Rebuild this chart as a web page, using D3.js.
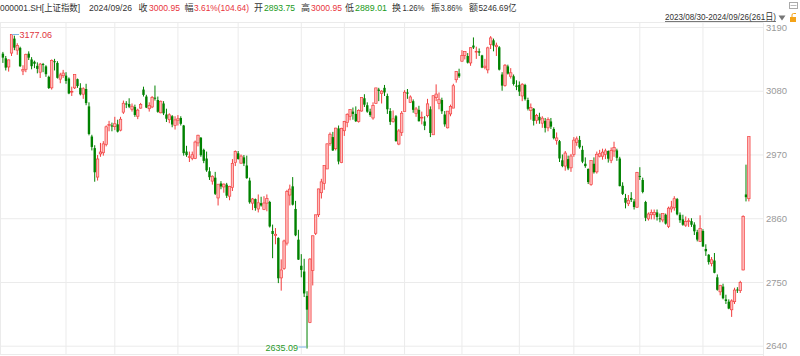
<!DOCTYPE html>
<html><head><meta charset="utf-8">
<script src="https://cdn.jsdelivr.net/npm/d3@7/dist/d3.min.js"></script>
<style>
body{margin:0;background:#fff;}
svg{display:block;}
text{font-family:"Liberation Sans","Noto Sans CJK SC",sans-serif;}
</style></head>
<body><svg id="c" width="800" height="356"></svg>
<script>
// ---- categories (trading days) ----
const months = ["2023/08","2023/09","2023/10","2023/11","2023/12","2024/01","2024/02","2024/03","2024/04","2024/05","2024/06","2024/07","2024/08","2024/09"];
const monthDays = [
 [30,31],
 [1,4,5,6,7,8,11,12,13,14,15,18,19,20,21,22,25,26,27,28],
 [9,10,11,12,13,16,17,18,19,20,23,24,25,26,27,30,31],
 [1,2,3,6,7,8,9,10,13,14,15,16,17,20,21,22,23,24,27,28,29,30],
 [1,4,5,6,7,8,11,12,13,14,15,18,19,20,21,22,25,26,27,28,29],
 [2,3,4,5,8,9,10,11,12,15,16,17,18,19,22,23,24,25,26,29,30,31],
 [1,2,5,6,7,8,19,20,21,22,23,26,27,28,29],
 [1,4,5,6,7,8,11,12,13,14,15,18,19,20,21,22,25,26,27,28,29],
 [1,2,3,8,9,10,11,12,15,16,17,18,19,22,23,24,25,26,29,30],
 [6,7,8,9,10,13,14,15,16,17,20,21,22,23,24,27,28,29,30,31],
 [3,4,5,6,7,11,12,13,14,17,18,19,20,21,24,25,26,27,28],
 [1,2,3,4,5,8,9,10,11,12,15,16,17,18,19,22,23,24,25,26,29,30,31],
 [1,2,5,6,7,8,9,12,13,14,15,16,19,20,21,22,23,26,27,28,29,30],
 [2,3,4,5,6,9,10,11,12,13,18,19,20,23,24,25,26]
];
// ---- series values ----
const openV = [
3144,3136,3121,3145,3170,3150,3154,3114,3117,3144,
3134,3130,3123,3112,3126,3122,3104,3085,3131,3128,
3100,3106,3106,3101,3078,3085,3100,3085,3074,3083,
3053,3001,2981,2931,2971,2973,2987,3020,3020,3018,
3022,3012,3043,3058,3057,3048,3052,3036,3050,3082,
3070,3049,3052,3068,3064,3042,3058,3039,3030,3036,
3020,3029,3033,3020,2975,2966,2963,2963,2990,2999,
2978,2963,2941,2924,2930,2895,2920,2914,2918,2898,
2913,2956,2972,2955,2965,2951,2925,2886,2893,2876,
2886,2875,2886,2888,2838,2830,2826,2757,2773,2817,
2900,2915,2876,2823,2778,2768,2726,2680,2770,2834,
2866,2904,2920,2945,2989,3000,2980,3015,2956,3011,
3025,3036,3044,3040,3027,3045,3067,3055,3044,3033,
3058,3082,3075,3085,3071,3045,3027,3036,2988,3008,
3044,3077,3060,3062,3041,3047,3034,3027,3037,3048,
3004,3068,3058,3064,3039,3016,3040,3050,3099,3110,
3131,3141,3140,3128,3158,3147,3148,3141,3120,3116,
3160,3167,3156,3155,3108,3089,3122,3105,3105,3089,
3090,3071,3090,3064,3046,3049,3029,3035,3024,3028,
3016,3027,3014,2994,2993,2960,2950,2962,2947,2970,
2991,2995,2978,2954,2945,2918,2954,2940,2967,2967,
2970,2976,2960,2976,2977,2963,2916,2895,2885,2895,
2889,2879,2933,2926,2888,2859,2866,2866,2870,2860,
2857,2866,2846,2876,2878,2893,2866,2858,2848,2855,
2855,2849,2836,2820,2838,2807,2797,2782,2787,2758,
2733,2742,2720,2716,2702,2716,2737,2735,2770.75,2901,
2893.75];
const highV = [
3147,3140,3134,3177.06,3175,3162,3156,3124,3144,3148,
3138,3132,3129,3128,3128,3124,3106,3134,3135,3131,
3111,3116,3112,3103,3087,3108,3101,3093,3086,3092,
3060,3004,2986,2969,2990,2993,3020,3028,3025,3035,
3030,3035,3063,3062,3067,3058,3056,3049,3059,3087,
3073,3060,3071,3089,3070,3063,3062,3049,3041,3038,
3036,3038,3036,3021,2985,2975,2975,2994,3004,3000,
2980,2975,2948,2934,2940,2919,2924,2920,2921,2916,
2962,2977,2976,2970,2969,2968,2930,2895,2894,2901,
2897,2898,2901,2890,2849,2843,2827,2789,2823,2909,
2918,2931,2890,2840,2798,2790,2734,2791,2830,2866,
2911,2928,2951,2989,3008,3009,3016,3020,3016,3028,
3041,3048,3051,3053,3048,3069,3074,3060,3049,3060,
3085,3085,3081,3090,3075,3050,3046,3038,3014,3045,
3081,3083,3072,3065,3052,3054,3044,3036,3066,3053,
3072,3091,3077,3068,3045,3045,3056,3092,3114,3118,
3150,3148,3145,3155,3172,3156,3153,3142,3135,3156,
3174.27,3170,3163,3157,3112,3126,3125,3119,3108,3098,
3096,3093,3092,3068,3058,3050,3040,3042,3036,3033,
3034,3033,3017,3008,2995,2970,2976,2968,2971,3000,
3001,3002,2985,2965,2946,2960,2965,2975,2978,2980,
2980,2977,2982,2992,2980,2966,2922,2902,2900,2905,
2893,2940,2948,2930,2890,2870,2875,2875,2875,2868,
2868,2868,2880,2890,2898,2895,2870,2866,2863,2860,
2860,2853,2840,2865,2841,2815,2798,2793,2800,2763,
2745,2747,2728,2720,2720,2740,2741,2752,2865,2952.45,
3000.95];
const lowV = [
3128,3115,3113,3140,3150,3142,3121,3107,3112,3133,
3117,3119,3110,3102,3112,3104,3083,3082,3115,3101,
3093,3102,3092,3074,3071,3083,3085,3072,3066,3055,
3003,2977,2923,2925,2966,2968,2984,3010,3010,3012,
3008,3010,3040,3050,3050,3044,3035,3031,3049,3070,
3050,3044,3050,3063,3042,3041,3038,3026,3024,3017,
3013,3020,3020,2968,2966,2957,2960,2962,2984,2966,
2955,2940,2926,2918,2900,2882,2910,2904,2895,2891,
2907,2950,2961,2954,2950,2928,2885,2874,2873,2870,
2880,2874,2872,2844,2791,2815,2748,2735,2771,2813,
2882,2882,2829,2788,2758,2724,2635.09,2679,2744,2831,
2862,2894,2909,2945,2985,2976,2977,2953,2955,3002,
3017,3029,3030,3026,3025,3044,3052,3042,3035,3030,
3058,3062,3058,3071,3040,3021,3025,2992,2986,3002,
3044,3066,3059,3042,3035,3027,3022,3012,3034,3000,
3004,3062,3048,3040,3018,3015,3036,3050,3094,3102,
3130,3134,3127,3123,3152,3135,3140,3119,3117,3110,
3152,3148,3140,3115,3080,3087,3108,3101,3089,3081,
3071,3062,3063,3046,3030,3020,3023,3023,3016,3008,
3010,3014,2996,2987,2957,2948,2942,2943,2940,2966,
2985,2980,2955,2947,2919,2916,2937,2937,2965,2961,
2962,2956,2955,2966,2959,2915,2900,2877,2881,2888,
2875,2878,2926,2903,2855,2856,2858,2858,2856,2853,
2853,2849,2843,2870,2873,2865,2852,2847,2845,2845,
2845,2831,2820,2819,2811,2795,2780,2777,2765,2735,
2727,2720,2712,2703,2689.70,2712,2731,2731,2770,2889,
2889.01];
const closeV = [
3137.14,3119.88,3133.25,3177.06,3154.37,3158.08,3122.35,3116.72,3142.78,3137.06,
3122.40,3126.55,3117.74,3125.93,3124.25,3108.57,3084.70,3132.43,3130.65,3102.27,
3107.32,3110.48,3096.92,3075.24,3078.96,3107.90,3088.10,3073.81,3083.50,3058.71,
3005.39,2983.06,2939.29,2962.24,2974.26,2988.30,3017.78,3021.55,3018.77,3023.08,
3009.41,3030.80,3058.41,3057.27,3052.37,3053.28,3038.23,3046.53,3056.20,3072.83,
3050.93,3054.37,3068.32,3067.93,3043.61,3061.86,3040.97,3031.70,3038.55,3021.69,
3029.67,3031.64,3022.91,2972.30,2968.93,2966.21,2969.56,2991.44,3003.21,2968.76,
2958.99,2942.56,2930.80,2932.39,2902.11,2918.71,2914.78,2918.81,2898.87,2914.61,
2954.70,2974.93,2962.28,2967.25,2954.35,2929.18,2887.54,2893.25,2877.70,2886.65,
2881.98,2886.29,2893.99,2845.78,2832.82,2832.28,2756.34,2770.74,2820.77,2906.11,
2910.22,2883.36,2830.53,2788.55,2770.74,2730.15,2702.19,2789.49,2829.70,2865.90,
2910.54,2922.73,2950.96,2988.36,3004.88,2977.02,3015.48,2957.85,3015.17,3027.02,
3039.31,3047.79,3039.93,3027.40,3046.02,3068.46,3055.94,3043.83,3038.23,3054.64,
3084.93,3079.69,3079.25,3077.11,3048.03,3026.31,3031.48,2993.14,3010.66,3041.17,
3077.38,3074.96,3069.30,3047.05,3048.54,3027.33,3034.25,3019.47,3057.38,3007.07,
3071.38,3074.22,3065.26,3044.60,3021.98,3044.82,3052.90,3088.64,3113.04,3104.82,
3140.72,3147.74,3128.48,3154.32,3154.55,3148.02,3145.77,3119.90,3122.40,3154.03,
3171.15,3157.97,3158.54,3116.39,3088.87,3124.04,3109.57,3111.02,3091.68,3086.81,
3078.49,3091.20,3065.40,3048.79,3051.28,3028.05,3037.47,3028.92,3032.63,3015.89,
3030.25,3018.05,2998.14,2998.54,2963.10,2950.00,2972.53,2945.85,2967.40,2994.73,
2997.01,2982.38,2957.57,2949.93,2922.45,2959.37,2939.36,2970.39,2971.30,2974.01,
2976.30,2962.69,2977.13,2982.31,2964.22,2915.37,2901.95,2886.74,2890.90,2891.85,
2879.30,2938.75,2932.39,2905.34,2860.70,2867.28,2869.90,2869.83,2862.19,2858.20,
2867.95,2850.65,2877.36,2879.43,2893.67,2866.66,2856.58,2848.77,2854.37,2855.52,
2848.73,2837.43,2823.11,2842.21,2811.04,2802.98,2784.28,2788.31,2765.81,2736.49,
2744.19,2721.80,2717.12,2704.09,2717.28,2736.02,2736.81,2748.92,2863.13,2896.31,
3000.95];
// ---- tick labels & texts ----
const yTicks = [2640,2750,2860,2970,3080,3190];
const headerTexts = ["000001.SH[上证指数]","2024/09/26","收","3000.95","幅","3.61%(104.64)","开","2893.75","高","3000.95","低","2889.01","换","1.26%","振","3.86%","额","5246.69亿"];
const headerKinds = ["d","d","d","r","d","r","d","g","d","r","d","g","d","d","d","d","d","d"];
const rangeLabel = "2023/08/30-2024/09/26(261日)";

// ---- layout ----
const RED="#f23c3c", PINK="#ffbcbc", GREEN="#008200", GRID="#ebebeb";
const headerX = [0,89,138.5,149,184.5,194,254,264,301,311,345,355,392,402.5,431,440.5,469,478.5];
const headerW = [80,43,null,31,null,55,null,31,null,31,null,32,null,22,null,22,null,38];

const svg = d3.select("#c");
const dates = months.flatMap((m,i)=>monthDays[i].map(d=>m+"/"+String(d).padStart(2,"0")));
const data = dates.map((d,i)=>({d,o:openV[i],h:highV[i],l:lowV[i],c:closeV[i]}));

const plotL=0, plotR=763, plotT=22.5, plotB=354.5;
const x = d3.scaleBand().domain(dates).range([1.47,750.3]).paddingInner(0.2).paddingOuter(0.1);
const cx = d => x(d)+x.bandwidth()/2;
const y = d3.scaleLinear().domain([2640,3190]).range([345.7,27]);

// frame lines
svg.append("line").attr("x1",plotL).attr("x2",plotR).attr("y1",plotT).attr("y2",plotT).attr("stroke",GRID);
svg.append("line").attr("x1",plotL).attr("x2",plotR).attr("y1",plotB).attr("y2",plotB).attr("stroke",GRID);
svg.append("line").attr("x1",plotR+0.5).attr("x2",plotR+0.5).attr("y1",plotT).attr("y2",356).attr("stroke",GRID);
svg.append("line").attr("x1",0.5).attr("x2",0.5).attr("y1",plotT).attr("y2",plotB).attr("stroke",GRID);

// vertical month grid via axis
const monthStarts = months.slice(2).map((m,i)=>dates.find(d=>d.startsWith(m)));
const gx = svg.append("g").attr("transform",`translate(0,${plotB})`)
  .call(d3.axisBottom(x).tickValues(monthStarts).tickSize(-(plotB-plotT)).tickFormat(""));
gx.select(".domain").remove();
gx.selectAll("line").attr("stroke",GRID);

// y axis with grid
const gy = svg.append("g").attr("transform",`translate(${plotR},0)`)
  .call(d3.axisRight(y).tickValues(yTicks).tickSize(-plotR).tickPadding(3).tickFormat(d3.format("d")));
gy.select(".domain").remove();
gy.selectAll("line").attr("stroke",GRID);
gy.selectAll("text").attr("fill","#9a9a9a").attr("font-size","9.5px").attr("font-family","Liberation Sans, sans-serif");

// candles
const g = svg.append("g");
const bw = 2.4;
data.forEach(p=>{
  const c = cx(p.d);
  const up = p.c >= p.o;
  const yt = y(Math.max(p.o,p.c)), yb = y(Math.min(p.o,p.c));
  if(up){
    g.append("line").attr("x1",c).attr("x2",c).attr("y1",y(p.h)).attr("y2",yt).attr("stroke",RED).attr("stroke-width",1);
    g.append("line").attr("x1",c).attr("x2",c).attr("y1",yb).attr("y2",y(p.l)).attr("stroke",RED).attr("stroke-width",1);
    g.append("rect").attr("x",c-bw/2).attr("y",yt).attr("width",bw).attr("height",Math.max(yb-yt,0.8))
      .attr("fill",PINK).attr("stroke",RED).attr("stroke-width",0.7);
  } else {
    g.append("line").attr("x1",c).attr("x2",c).attr("y1",y(p.h)).attr("y2",y(p.l)).attr("stroke",GREEN).attr("stroke-width",1);
    g.append("rect").attr("x",c-bw/2).attr("y",yt).attr("width",bw).attr("height",Math.max(yb-yt,1))
      .attr("fill",GREEN);
  }
});

// extreme annotations
const iMax = d3.maxIndex(data,p=>p.h), iMin = d3.minIndex(data,p=>p.l);
const pMax = data[iMax], pMin = data[iMin];
svg.append("line").attr("x1",cx(pMax.d)+0.5).attr("x2",cx(pMax.d)+7.5).attr("y1",y(pMax.h)).attr("y2",y(pMax.h)).attr("stroke","#7fb7e6");
svg.append("text").attr("x",cx(pMax.d)+8).attr("y",y(pMax.h)).attr("dy","0.35em").attr("font-size","9px").attr("fill","#e0343c").text(pMax.h.toFixed(2));
svg.append("line").attr("x1",cx(pMin.d)-8.5).attr("x2",cx(pMin.d)-0.5).attr("y1",y(pMin.l)-1.5).attr("y2",y(pMin.l)-1.5).attr("stroke","#7fb7e6");
svg.append("text").attr("x",cx(pMin.d)-9).attr("y",y(pMin.l)-1).attr("dy","0.35em").attr("text-anchor","end").attr("font-size","9px").attr("fill","#2a9a2a").text(pMin.l.toFixed(2));

// header
const kindColor = {d:"#333",r:"#e8343c",g:"#1a9a1a"};
headerTexts.forEach((t,i)=>{
  const tx = svg.append("text").attr("x",headerX[i]).attr("y",11).attr("font-size","9px").attr("fill",kindColor[headerKinds[i]]).text(t);
  if(headerW[i]) tx.attr("textLength",headerW[i]).attr("lengthAdjust","spacingAndGlyphs");
});
// range label
svg.append("text").attr("x",665).attr("y",20).attr("font-size","9px").attr("fill","#333").attr("textLength",111).attr("lengthAdjust","spacingAndGlyphs").text(rangeLabel);
svg.append("line").attr("x1",665).attr("x2",776).attr("y1",21.5).attr("y2",21.5).attr("stroke","#555").attr("stroke-width",0.8);
svg.append("path").attr("d","M778.5,15.5 L785.5,15.5 L782,20.5 Z").attr("fill","#777");
// orange lock icon
svg.append("rect").attr("x",790).attr("y",17).attr("width",6).attr("height",5).attr("fill","#f4a318");
svg.append("path").attr("d","M792,17 L792,15 Q792,13.5 793.5,13.5 L796,13.5").attr("fill","none").attr("stroke","#f4a318").attr("stroke-width",1);
// gray icon top right
svg.append("rect").attr("x",789.5).attr("y",2.5).attr("width",8).attr("height",6).attr("fill","none").attr("stroke","#aaa").attr("stroke-width",1);
svg.append("line").attr("x1",790.5).attr("x2",796.5).attr("y1",5.5).attr("y2",5.5).attr("stroke","#aaa").attr("stroke-width",0.8);
</script></body></html>
